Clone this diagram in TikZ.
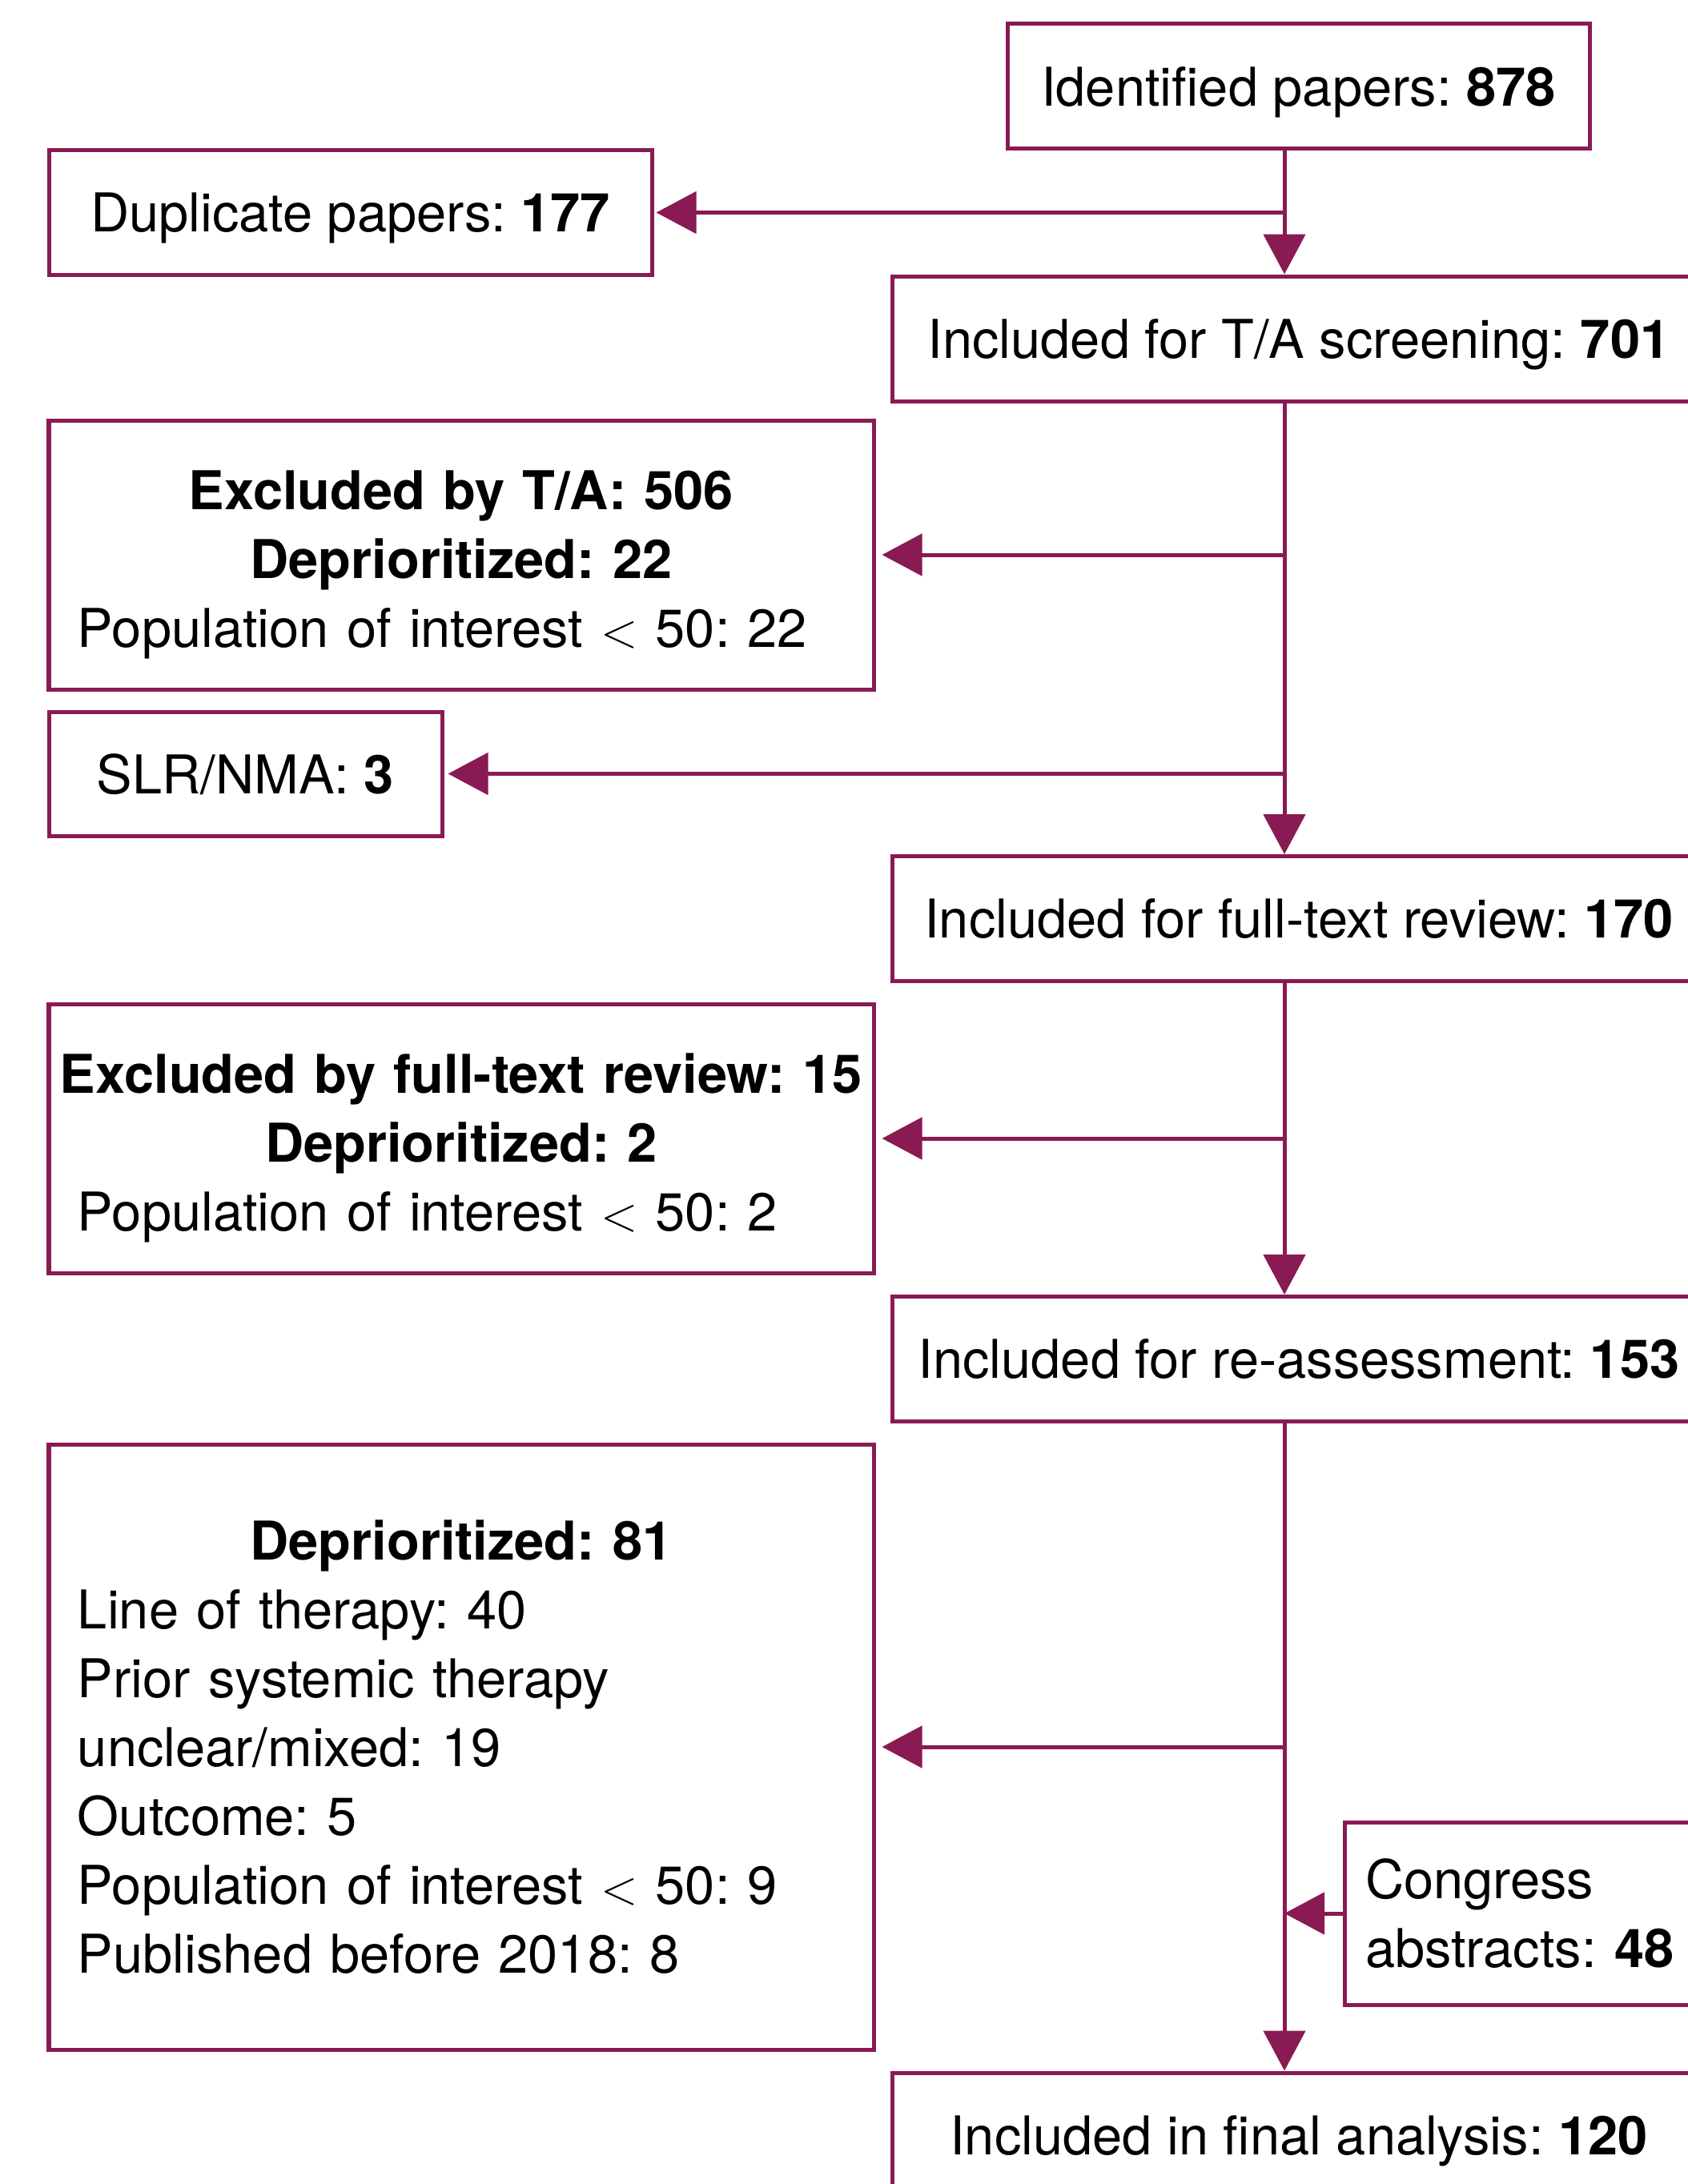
\documentclass[tikz,border=0pt]{standalone}
\usepackage{fontspec}
\setmainfont{TeX Gyre Heros}
\usetikzlibrary{arrows.meta, positioning}
\definecolor{prPurple}{RGB}{137,26,84}
\newcommand{\prhead}[1]{\makebox[\hsize]{\bfseries #1}}
\newcommand{\prtop}{\rule{0pt}{0.73cm}}
\tikzset{
  prbox/.style={rectangle, draw=prPurple, line width=0.05cm, inner sep=0pt,
                align=center, font=\frenchspacing\fontsize{19pt}{24.5pt}\selectfont},
  prline/.style={prbox, text depth=0pt},
  prmain/.style={prline, minimum width=10.16cm, minimum height=1.56cm},
  prexcl/.style={prbox, inner xsep=0.36cm, text width=9.58cm, align=left},
  prarrow/.style={-{Triangle[length=0.5cm, width=0.52cm]}, line width=0.05cm, prPurple},
}
\begin{document}
\begin{tikzpicture}
  \useasboundingbox (0,0) rectangle (21.07,-27.28);
  \coordinate (spine) at (16.04,0);

  % main column
  \node[prline, minimum width=7.27cm, minimum height=1.56cm] (ident) at (16.215,-1.08)
    {Identified papers: \textbf{878}};
  \node[prmain] (tascr) at (16.22,-4.23) {Included for T/A screening: \textbf{701}};
  \node[prmain] (ftr) at (16.22,-11.475) {Included for full-text review: \textbf{170}};
  \node[prmain] (reas) at (16.22,-16.975) {Included for re-assessment: \textbf{153}};
  \node[prmain] (final) at (16.22,-26.67) {Included in final analysis: \textbf{120}};
  \node[prbox, inner xsep=0.26cm, text width=3.99cm, align=left, minimum height=2.28cm]
    (congr) at (19.045,-23.90) {Congress\\abstracts: \textbf{48}};

  % excluded column
  \node[prline, minimum width=7.53cm, minimum height=1.55cm] (dup) at (4.375,-2.655)
    {Duplicate papers: \textbf{177}};
  \node[prexcl, minimum height=3.36cm] (exta) at (5.76,-6.93)
    {\prhead{\prtop Excluded by T/A: 506}\\
     \prhead{Deprioritized: 22}\\
     Population of interest $<$ 50: 22};
  \node[prline, minimum width=4.91cm, minimum height=1.55cm] (slr) at (3.065,-9.665)
    {SLR/NMA: \textbf{3}};
  \node[prexcl, minimum height=3.36cm] (exft) at (5.76,-14.22)
    {\prhead{\prtop Excluded by full-text review: 15}\\
     \prhead{Deprioritized: 2}\\
     Population of interest $<$ 50: 2};
  \node[prexcl, minimum height=7.56cm] (depr) at (5.76,-21.82)
    {\prhead{Deprioritized: 81}\\
     Line of therapy: 40\\
     Prior systemic therapy\\
     unclear/mixed: 19\\
     Outcome: 5\\
     Population of interest $<$ 50: 9\\
     Published before 2018: 8};

  % connectors
  \draw[prarrow] (ident.south -| spine) -- (tascr.north -| spine);
  \draw[prarrow, shorten >=0.03cm] (dup.east -| spine) -- (dup.east);
  \draw[prarrow] (tascr.south -| spine) -- (ftr.north -| spine);
  \draw[prarrow, shorten >=0.08cm] (exta.east -| spine) -- (exta.east);
  \draw[prarrow, shorten >=0.05cm] (slr.east -| spine) -- (slr.east);
  \draw[prarrow] (ftr.south -| spine) -- (reas.north -| spine);
  \draw[prarrow, shorten >=0.08cm] (exft.east -| spine) -- (exft.east);
  \draw[prarrow] (reas.south -| spine) -- (final.north -| spine);
  \draw[prarrow, shorten >=0.08cm] (depr.east -| spine) -- (depr.east);
  \draw[prarrow] (congr.west) -- (congr.west -| spine);
\end{tikzpicture}
\end{document}
